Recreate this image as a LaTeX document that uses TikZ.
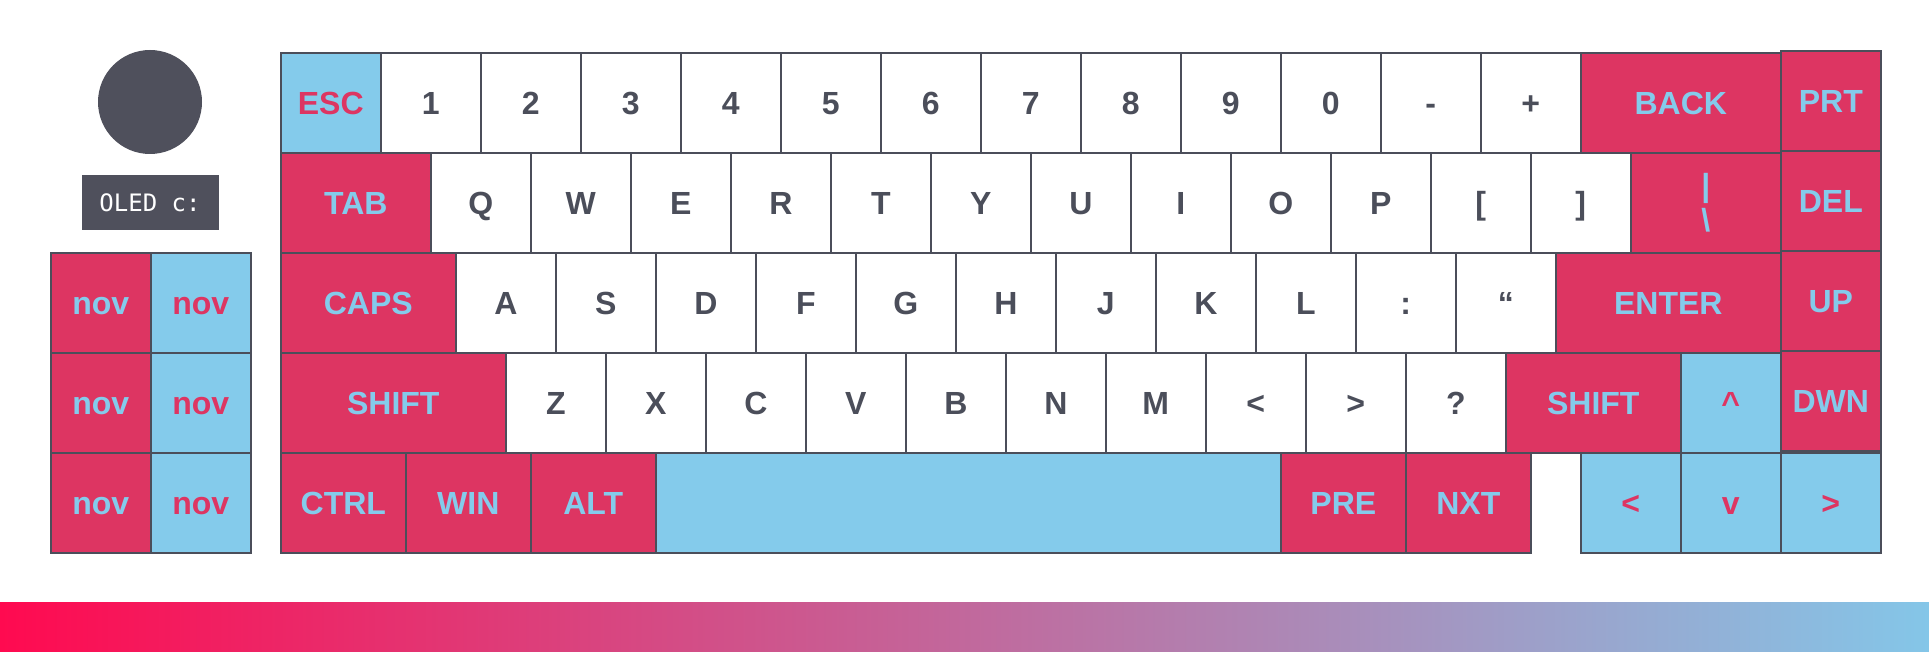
\documentclass[tikz,border=0pt]{standalone}
\usepackage{fontspec}
\setmainfont{Liberation Sans}
\setmonofont{DejaVu Sans Mono}
\definecolor{keyred}{HTML}{DD3562}
\definecolor{keyblue}{HTML}{84CBEB}
\definecolor{keyline}{HTML}{4B4E5A}
\definecolor{knobgray}{HTML}{4F505C}
\definecolor{barleft}{HTML}{FF0A50}
\definecolor{barright}{HTML}{84C6E8}
\tikzset{
	keycap/.style={draw=keyline,line width=1.6pt,fill=white,text=keyline,anchor=north west,
		minimum width=100pt,minimum height=100pt,inner sep=0pt,text height=23pt,text depth=0pt,
		font=\bfseries\fontsize{32}{30}\selectfont},
	modkey/.style={keycap,fill=keyred,text=keyblue},
	arrowkey/.style={keycap,fill=keyblue,text=keyred}
}
\begin{document}
\begin{tikzpicture}[x=1pt,y=-1pt]
			\useasboundingbox (0,0) rectangle (1929,652);
			
			\node[circle,fill=knobgray,minimum size=104pt,inner sep=0pt] (knob) at (150,102) {};
			\node[fill=knobgray,minimum width=137pt,minimum height=55pt,inner sep=0pt,text=white,font=\ttfamily\fontsize{24}{24}\selectfont] (oled) at (150,203) {OLED c:};
			\foreach \r in {0,1,2} {
				\node[modkey] (novl\r) at (50,252+\r*100) {nov};
				\node[arrowkey] (novr\r) at (150,252+\r*100) {nov};
			}
			
			\node[arrowkey] (esc) at (280,52) {ESC};
			\foreach \k [count=\i] in {1,2,3,4,5,6,7,8,9,0,-,+}
				\node[keycap] (num\i) at (280+\i*100,52) {\k};
			\node[modkey,minimum width=200pt] (back) at (1580,52) {BACK};
			
			\node[modkey,minimum width=150pt] (tab) at (280,152) {TAB};
			\foreach \k [count=\i] in {Q,W,E,R,T,Y,U,I,O,P,{[},{]}}
				\node[keycap] (top\i) at (330+\i*100,152) {\k};
			\node[modkey,minimum width=150pt,align=center,text height={},text depth={}] (bsl) at (1630,152) {|\\[3pt]\textbackslash};
			
			\node[modkey,minimum width=175pt] (caps) at (280,252) {CAPS};
			\foreach \k [count=\i] in {A,S,D,F,G,H,J,K,L,:,“}
				\node[keycap] (home\i) at (355+\i*100,252) {\k};
			\node[modkey,minimum width=225pt] (enter) at (1555,252) {ENTER};
			
			\node[modkey,minimum width=225pt] (lshift) at (280,352) {SHIFT};
			\foreach \k [count=\i] in {Z,X,C,V,B,N,M,<,>,?}
				\node[keycap] (bot\i) at (405+\i*100,352) {\k};
			\node[modkey,minimum width=175pt] (rshift) at (1505,352) {SHIFT};
			\node[arrowkey] (up) at (1680,352) {\textasciicircum};
			
			\node[modkey,minimum width=125pt] (ctrl) at (280,452) {CTRL};
			\node[modkey,minimum width=125pt] (win) at (405,452) {WIN};
			\node[modkey,minimum width=125pt] (alt) at (530,452) {ALT};
			\node[arrowkey,minimum width=625pt] (space) at (655,452) {};
			\node[modkey,minimum width=125pt] (pre) at (1280,452) {PRE};
			\node[modkey,minimum width=125pt] (nxt) at (1405,452) {NXT};
			\node[arrowkey] (left) at (1580,452) {<};
			\node[arrowkey] (down) at (1680,452) {v};
			\node[arrowkey] (right) at (1780,452) {>};
			
			\node[modkey] (prt) at (1780,50) {PRT};
			\node[modkey] (del) at (1780,150) {DEL};
			\node[modkey] (upnav) at (1780,250) {UP};
			\node[modkey] (dwn) at (1780,350) {DWN};
			
			\shade[left color=barleft,right color=barright] (0,602) rectangle (1929,652);
		\end{tikzpicture}
\end{document}
